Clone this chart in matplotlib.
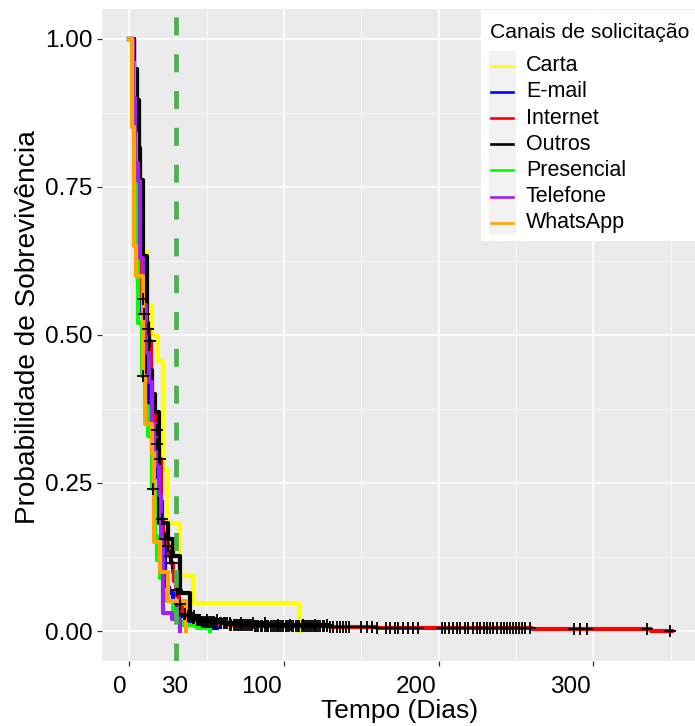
import numpy as np
import matplotlib
matplotlib.use("Agg")
import matplotlib.pyplot as plt
from matplotlib.patches import Rectangle
from matplotlib.transforms import blended_transform_factory, offset_copy, ScaledTranslation

plt.rcParams["font.family"] = ["Liberation Sans", "DejaVu Sans"]

# Kaplan-Meier steps per channel: event times (days) and survival after each step
canais = ["Carta", "E-mail", "Internet", "Outros", "Presencial", "Telefone", "WhatsApp"]
cores = ["#FFFF00", "#0000FF", "#FF0000", "#000000", "#00FF00", "#A020F0", "#FFA500"]

carta_t = [3, 4.8, 6.3, 8.9, 11.3, 15, 18.3, 21.5, 24.3, 32.8, 41.4, 109.7]
carta_s = [0.91, 0.82, 0.73, 0.64, 0.55, 0.50, 0.456, 0.273, 0.183, 0.093, 0.047, 0.0]

email_t = [3, 4, 4.8, 5.4, 7, 9, 11, 13, 15, 17, 19, 21, 23, 24.5, 26, 28, 30, 33, 36, 40, 48]
email_s = [0.93, 0.80, 0.69, 0.59, 0.54, 0.48, 0.42, 0.36, 0.31, 0.26, 0.22, 0.16, 0.09,
           0.075, 0.065, 0.05, 0.035, 0.025, 0.015, 0.01, 0.005]

internet_t = [3, 4.8, 6.3, 7.1, 8, 9, 10, 12, 13, 14, 15, 16, 17, 17.5, 18, 19, 19.5, 20.5,
              22, 23, 24, 25, 26, 27, 28, 29, 30, 31, 32, 33, 34, 35, 36, 38, 40, 43, 47,
              55, 65, 80, 100, 130, 160, 200, 230, 260, 300, 337]
internet_s = [0.94, 0.88, 0.80, 0.70, 0.56, 0.535, 0.52, 0.51, 0.49, 0.42, 0.40, 0.37, 0.35,
              0.34, 0.315, 0.30, 0.29, 0.19, 0.165, 0.155, 0.148, 0.143, 0.127, 0.115, 0.10,
              0.085, 0.07, 0.06, 0.045, 0.04, 0.035, 0.03, 0.028, 0.025, 0.022, 0.019, 0.016,
              0.013, 0.011, 0.009, 0.0078, 0.0068, 0.006, 0.0052, 0.0047, 0.0042, 0.0038, 0.0008]

outros_t = [3, 4.8, 6.3, 7.1, 8.9, 11.4, 12.3, 14.5, 16.6, 19.3, 25.2, 28.5, 32.8, 39.2, 45, 60, 90]
outros_s = [0.948, 0.897, 0.816, 0.762, 0.633, 0.52, 0.44, 0.40, 0.37, 0.183, 0.155, 0.127,
            0.065, 0.025, 0.018, 0.014, 0.011]

presencial_t = [1.5, 3, 4.3, 5.8, 8, 10, 12, 14.5, 16.6, 18, 20, 22, 24.5, 28, 30.6, 35, 43.6, 52]
presencial_s = [0.96, 0.84, 0.70, 0.52, 0.43, 0.38, 0.33, 0.24, 0.16, 0.12, 0.09, 0.065, 0.05,
                0.03, 0.015, 0.01, 0.005, 0.0]

telefone_t = [2.6, 3.7, 5.4, 6.9, 9, 11, 13, 15, 17, 19, 20.5, 22, 27.4, 33]
telefone_s = [0.90, 0.79, 0.76, 0.63, 0.55, 0.47, 0.42, 0.35, 0.28, 0.23, 0.155, 0.03, 0.02, 0.0]

whatsapp_t = [1.5, 3.0, 4.3, 9.0, 10.1, 14.5, 16, 19.8, 25.2, 36.7]
whatsapp_s = [0.85, 0.65, 0.60, 0.43, 0.35, 0.30, 0.15, 0.10, 0.05, 0.0]

# last follow-up time of each group
fim = [109.7, 57, 351, 128, 52, 33, 36.7]

# censored observations (time in days)
censura_internet = [8.7, 9.5, 12.3, 13.4, 17.7, 18.1, 19.8, 21, 23, 25.2, 26.3, 27.4, 30.6, 32.8, 36,
                    38, 39.5, 41, 42, 43.5, 44.5, 46, 47, 48.5, 49.5, 51, 52, 53.5, 54.5, 56, 57,
                    58.5, 59.5, 61, 62, 63.5, 65, 66, 67.5, 69, 70, 71.5, 73, 74, 75.5, 77, 78,
                    79.5, 81, 82, 83.5, 85, 86, 87.5, 89, 90, 91.5, 93, 94, 95.5, 97, 98, 99.5,
                    101, 102, 103.5, 105, 106, 107.5, 109, 110, 111.5, 113, 114, 115.5, 117, 118,
                    119.5, 121, 122, 123.5, 125, 126, 127.5, 130, 132, 134, 136, 138, 140, 142,
                    150, 153.5, 156.7, 160, 166, 168.6, 171.7, 174, 177, 180.4, 183.6, 186.8,
                    202, 204, 206.5, 209, 212, 214, 217, 219, 222, 225, 227, 229, 231, 233, 235,
                    237.5, 240, 242, 244, 246, 248, 250, 252, 254, 256, 259, 287.5, 291.5, 296,
                    334.5, 349.5]
censura_outros = [42, 50, 57, 65, 72, 80, 88, 96, 104, 112, 120, 128]
censura_presencial = [15.5]
censura_whatsapp = [9.0]

tempos = [carta_t, email_t, internet_t, outros_t, presencial_t, telefone_t, whatsapp_t]
sobrev = [carta_s, email_s, internet_s, outros_s, presencial_s, telefone_s, whatsapp_s]
censuras = [[], [], censura_internet, censura_outros, censura_presencial, [], censura_whatsapp]

W, H = 695, 726
fig = plt.figure(figsize=(W / 100, H / 100), dpi=100)
fig.patch.set_facecolor("white")

x0, x1 = -17.8, 373.8
px_left, px_right = 101.7, 129.3 + x1 * 1.547
py_top, py_bot = 9, 660.7
ax = fig.add_axes([px_left / W, 1 - py_bot / H, (px_right - px_left) / W, (py_bot - py_top) / H])
ax.set_facecolor("#EBEBEB")
for s in ax.spines.values():
    s.set_visible(False)

for t, sv, c, f, cens in zip(tempos, sobrev, cores, fim, censuras):
    tt = np.concatenate([[0], t, [f]])
    ss = np.concatenate([[1.0], sv, [sv[-1]]])
    ax.step(tt, ss, where="post", color=c, lw=3.0, zorder=2)
    if cens:
        idx = np.searchsorted(tt, cens, side="right") - 1
        ax.plot(cens, ss[idx], linestyle="none", marker="+", color="black",
                markersize=8, mew=1.3, zorder=3)

ax.axvline(30, color="#4CAF50", lw=3.4, linestyle=(0, (3.8, 4.0)), zorder=4)

ax.set_xlim(x0, x1)
ax.set_ylim(-0.05, 1.05)
ax.set_xticks([0, 100, 200, 300])
ax.set_xticklabels(["0", "100", "200", "300"])
ax.set_xticks([50, 150, 250, 350], minor=True)
ax.set_yticks([0, 0.25, 0.5, 0.75, 1.0])
ax.set_yticklabels(["0.00", "0.25", "0.50", "0.75", "1.00"])
ax.set_yticks([0.125, 0.375, 0.625, 0.875], minor=True)
ax.grid(which="major", color="white", lw=1.1)
ax.grid(which="minor", color="white", lw=0.6)
ax.set_axisbelow(True)
ax.tick_params(which="major", length=3.3, width=0.9, color="#333333",
               labelsize=17.5, labelcolor="black")
ax.tick_params(axis="x", which="major", pad=7.5)
ax.tick_params(axis="y", which="major", pad=3.2)
ax.tick_params(which="minor", length=0)

# x tick labels sit right-aligned, just left of their tick
shift = ScaledTranslation(-2.5 / 100, 0, fig.dpi_scale_trans)
for lab in ax.get_xticklabels():
    lab.set_ha("right")
    lab.set_transform(lab.get_transform() + shift)

# "30" label under the dashed reference line
trans = blended_transform_factory(ax.transData, ax.transAxes)
trans30 = offset_copy(trans, fig=fig, x=-1.0, y=-(3.3 + 7.5), units="points")
ax.text(30, 0, "30", transform=trans30, ha="center", va="top", fontsize=17.5)

ax.set_xlabel("Tempo (Dias)", fontsize=19)
ax.set_ylabel("Probabilidade de Sobrevivência", fontsize=20.2)
ax.xaxis.label.set_va("center")
ax.yaxis.label.set_va("center")
ax.xaxis.set_label_coords((400 - px_left) / (px_right - px_left), (py_bot - 711) / (py_bot - py_top))
ax.yaxis.set_label_coords((28 - px_left) / (px_right - px_left), (py_bot - 327.5) / (py_bot - py_top))

# legend box drawn in pixel coordinates
leg = fig.add_axes([481 / W, 1 - 241 / H, (W - 481) / W, 231 / H])
leg.set_xlim(481, 695)
leg.set_ylim(241, 10)
leg.axis("off")
leg.add_patch(Rectangle((481, 10), 214, 231, color="white", zorder=0))
leg.add_patch(Rectangle((489, 50.7), 26, 182.6, color="#F2F2F2", zorder=1))
leg.text(490, 32, "Canais de solicitação", va="center", ha="left", fontsize=15.2)
for i, (nome, c) in enumerate(zip(canais, cores)):
    y = 65.7 + 26.17 * i
    leg.plot([491, 513], [y, y], color=c, lw=1.9, zorder=2)
    leg.text(526, y, nome, va="center", ha="left", fontsize=15.5)

fig.savefig("out.png", dpi=100)
